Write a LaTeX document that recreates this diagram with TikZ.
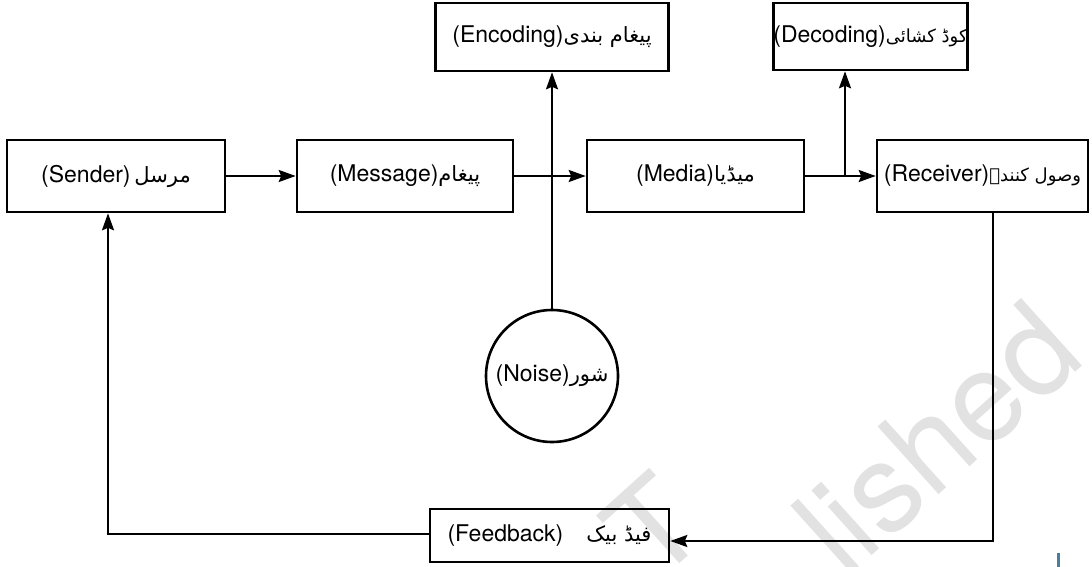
\documentclass[tikz,border=0pt]{standalone}
\usepackage{fontspec}
\setmainfont{TeX Gyre Heros}
\newfontfamily\urdu[Script=Arabic]{DejaVu Sans}
\TeXXeTstate=1
\usetikzlibrary{arrows.meta}

% Urdu words are set right to left in their own font
\newcommand{\ur}[1]{{\urdu\fontsize{21}{25}\selectfont\beginR #1\endR}}
\newcommand{\urs}[1]{{\urdu\fontsize{18}{22}\selectfont\beginR #1\endR}}

\definecolor{wmgray}{HTML}{E2E2E2}
\definecolor{tickblue}{HTML}{4A7F99}

\begin{document}
\begin{tikzpicture}[x=1pt, y=-1pt,
  label font/.style={font=\fontsize{23}{27}\selectfont},
  box/.style={draw, line width=2.6pt, inner sep=0pt, label font},
  ring/.style={draw, circle, line width=2.6pt, inner sep=0pt, minimum size=132pt, label font},
  conn/.style={line width=2.3pt},
  arr/.style={conn, -{Stealth[length=17pt, width=12pt, inset=2.5pt]}},
  wm/.style={text=wmgray, font=\fontsize{125}{125}\selectfont, inner sep=0pt}]

\useasboundingbox (0,0) rectangle (1092,567);

% faint background watermark
\begin{scope}
  \clip (0,0) rectangle (1092,567);
  \node[wm, rotate=42, anchor=base west] (wm-word) at (845,580) {lished};
  \node[wm, rotate=42, anchor=base west] (wm-letter) at (655,586) {T};
\end{scope}
\fill[tickblue] (1056.5,553) rectangle (1059.5,567);

% main chain
\node[box, minimum width=218pt, minimum height=72pt] (sender)   at (116,176)   {(Sender)\,\ur{مرسل}};
\node[box, minimum width=216pt, minimum height=72pt] (message)  at (405,176)   {(Message)\ur{پیغام}};
\node[box, minimum width=217pt, minimum height=72pt] (media)    at (695.5,176) {(Media)\ur{میڈیا}};
\node[box, minimum width=211pt, minimum height=72pt] (receiver) at (982.5,176) {(Receiver)\urs{وصول کنندہ}};

% upper boxes
\node[box, minimum width=233pt, minimum height=68pt] (encoding) at (552,37)  {(Encoding)\ur{پیغام بندی}};
\node[box, minimum width=189pt, minimum height=67pt] (decoding) at (870.5,36.5) {(Decoding)\urs{کوڈ کشائی}};

% noise and feedback
\node[ring] (noise) at (552,376) {(Noise)\ur{شور}};
\node[box, minimum width=239pt, minimum height=53pt] (feedback) at (549.5,535.5) {(Feedback)\quad\ur{فیڈ بیک}};

% turning points of the connectors
\coordinate (dec-tap) at (845,176);
\coordinate (fb-turn) at (993,541);
\coordinate (sd-turn) at (108,534);

% connectors
\draw[arr] (sender) -- (message);
\draw[arr] (message) -- (media);
\draw[arr] (media) -- (receiver);
\draw[arr] (dec-tap) -- (dec-tap |- decoding.south);
\draw[arr] (noise) -- (encoding);
\draw[arr] (receiver.south -| fb-turn) -- (fb-turn) -- (fb-turn -| feedback.east);
\draw[arr] (sd-turn -| feedback.west) -- (sd-turn) -- (sd-turn |- sender.south);

\end{tikzpicture}
\end{document}
